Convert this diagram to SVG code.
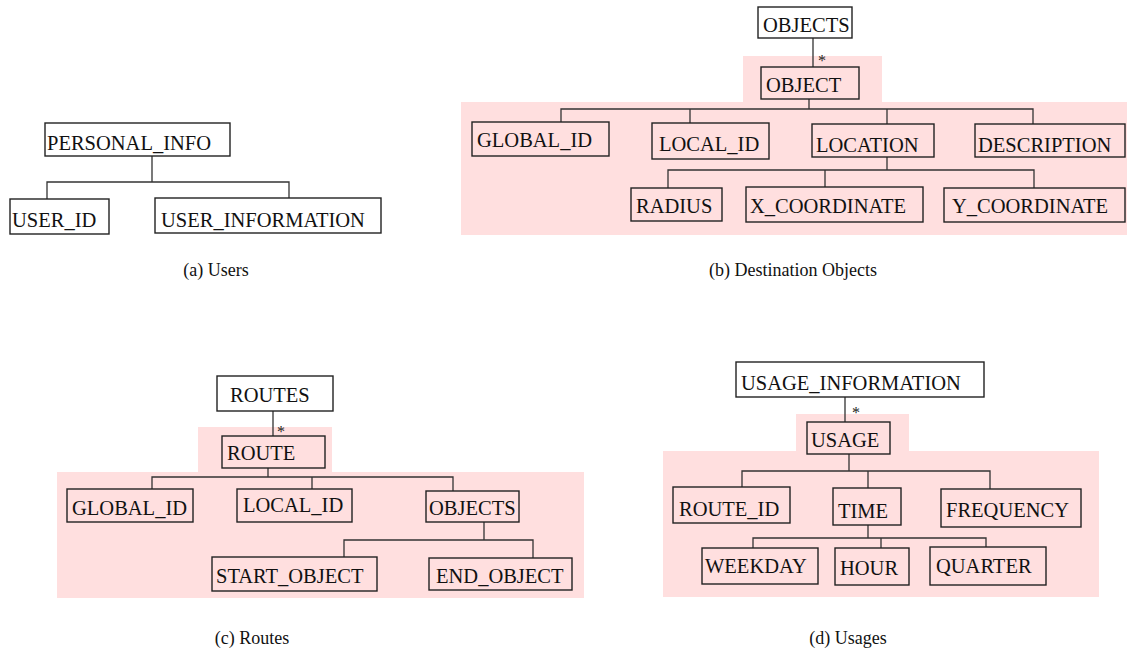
<svg xmlns="http://www.w3.org/2000/svg" width="1127" height="671" viewBox="0 0 1127 671">
<style>
.bg{fill:#ffdfdf;stroke:none}
.box{fill:none;stroke:#222;stroke-width:1.4}
.lbl{font-family:"Liberation Serif","Times New Roman",serif;font-size:20.5px;fill:#111}
.cap{font-family:"Liberation Serif","Times New Roman",serif;font-size:18px;fill:#111;text-anchor:middle}
.star{font-family:"Liberation Serif","Times New Roman",serif;font-size:16px;fill:#222}
.con{fill:none;stroke:#333;stroke-width:1.3}
</style>
<rect width="1127" height="671" fill="#fff"/>
<g id="highlights">
<rect class="bg" x="743" y="56" width="139" height="47"/>
<rect class="bg" x="461" y="102" width="666" height="133"/>
<rect class="bg" x="198" y="427" width="134" height="46"/>
<rect class="bg" x="57" y="472" width="527" height="126"/>
<rect class="bg" x="796" y="414" width="113" height="38"/>
<rect class="bg" x="663" y="451" width="436" height="146"/>
</g>
<g id="connectors">
<path class="con" d="M152,156 V182 M47,199 V182 H289 V198"/>
<path class="con" d="M813,38 V67 M809,99 V109 M561,122 V109 H1033 V124 M690,109 V123 M887,109 V124 M887,157 V170 M668,188 V170 H1034 V188 M825,170 V187"/>
<path class="con" d="M273,411 V436 M268,468 V477 M152,489 V477 H453 V491 M312,477 V489 M484,522 V540 M344,557 V540 H533 V558"/>
<path class="con" d="M845,397 V422 M849,454 V471 M742,487 V471 H990 V489 M868,471 V488 M868,525 V538 M753,548 V538 H986 V547 M881,538 V548"/>
<text class="star" x="818" y="66">*</text>
<text class="star" x="277" y="437">*</text>
<text class="star" x="852" y="418">*</text>
</g>
<g id="n_personal_info"><rect class="box" x="45" y="123" width="185" height="33"/><text class="lbl" x="47" y="150">PERSONAL_INFO</text></g>
<g id="n_user_id"><rect class="box" x="10" y="199" width="99" height="35"/><text class="lbl" x="12" y="227">USER_ID</text></g>
<g id="n_user_information"><rect class="box" x="155" y="198" width="226" height="35"/><text class="lbl" x="161" y="227">USER_INFORMATION</text></g>

<g id="n_objects_b"><rect class="box" x="758" y="7" width="94" height="31"/><text class="lbl" x="763" y="32">OBJECTS</text></g>
<g id="n_object"><rect class="box" x="761" y="67" width="98" height="32"/><text class="lbl" x="766" y="92">OBJECT</text></g>
<g id="n_global_id_b"><rect class="box" x="472" y="122" width="137" height="34"/><text class="lbl" x="477" y="147">GLOBAL_ID</text></g>
<g id="n_local_id_b"><rect class="box" x="652" y="123" width="117" height="36"/><text class="lbl" x="659" y="151">LOCAL_ID</text></g>
<g id="n_location"><rect class="box" x="812" y="124" width="122" height="33"/><text class="lbl" x="816" y="152">LOCATION</text></g>
<g id="n_description"><rect class="box" x="975" y="124" width="150" height="33"/><text class="lbl" x="978" y="152">DESCRIPTION</text></g>
<g id="n_radius"><rect class="box" x="631" y="188" width="91" height="33"/><text class="lbl" x="636" y="213">RADIUS</text></g>
<g id="n_x_coordinate"><rect class="box" x="746" y="187" width="177" height="35"/><text class="lbl" x="750" y="213">X_COORDINATE</text></g>
<g id="n_y_coordinate"><rect class="box" x="944" y="188" width="181" height="34"/><text class="lbl" x="952" y="213">Y_COORDINATE</text></g>

<g id="n_routes"><rect class="box" x="217" y="376" width="116" height="35"/><text class="lbl" x="230" y="402">ROUTES</text></g>
<g id="n_route"><rect class="box" x="222" y="436" width="103" height="32"/><text class="lbl" x="227" y="460">ROUTE</text></g>
<g id="n_global_id_c"><rect class="box" x="67" y="489" width="126" height="33"/><text class="lbl" x="72" y="515">GLOBAL_ID</text></g>
<g id="n_local_id_c"><rect class="box" x="237" y="489" width="115" height="33"/><text class="lbl" x="243" y="512">LOCAL_ID</text></g>
<g id="n_objects_c"><rect class="box" x="426" y="491" width="93" height="31"/><text class="lbl" x="429" y="515">OBJECTS</text></g>
<g id="n_start_object"><rect class="box" x="212" y="557" width="165" height="34"/><text class="lbl" x="216" y="583">START_OBJECT</text></g>
<g id="n_end_object"><rect class="box" x="429" y="558" width="143" height="32"/><text class="lbl" x="436" y="583">END_OBJECT</text></g>

<g id="n_usage_information"><rect class="box" x="736" y="362" width="248" height="35"/><text class="lbl" x="741" y="390">USAGE_INFORMATION</text></g>
<g id="n_usage"><rect class="box" x="807" y="422" width="83" height="32"/><text class="lbl" x="811" y="447">USAGE</text></g>
<g id="n_route_id"><rect class="box" x="673" y="487" width="117" height="36"/><text class="lbl" x="679" y="516">ROUTE_ID</text></g>
<g id="n_time"><rect class="box" x="833" y="488" width="68" height="37"/><text class="lbl" x="838" y="518">TIME</text></g>
<g id="n_frequency"><rect class="box" x="941" y="489" width="140" height="38"/><text class="lbl" x="946" y="517">FREQUENCY</text></g>
<g id="n_weekday"><rect class="box" x="702" y="548" width="116" height="36"/><text class="lbl" x="705" y="573">WEEKDAY</text></g>
<g id="n_hour"><rect class="box" x="835" y="548" width="74" height="37"/><text class="lbl" x="840" y="575">HOUR</text></g>
<g id="n_quarter"><rect class="box" x="930" y="547" width="116" height="38"/><text class="lbl" x="936" y="573">QUARTER</text></g>

<g id="captions">
<text class="cap" x="216" y="276">(a) Users</text>
<text class="cap" x="793" y="276">(b) Destination Objects</text>
<text class="cap" x="252" y="644">(c) Routes</text>
<text class="cap" x="848" y="644">(d) Usages</text>
</g>
</svg>
